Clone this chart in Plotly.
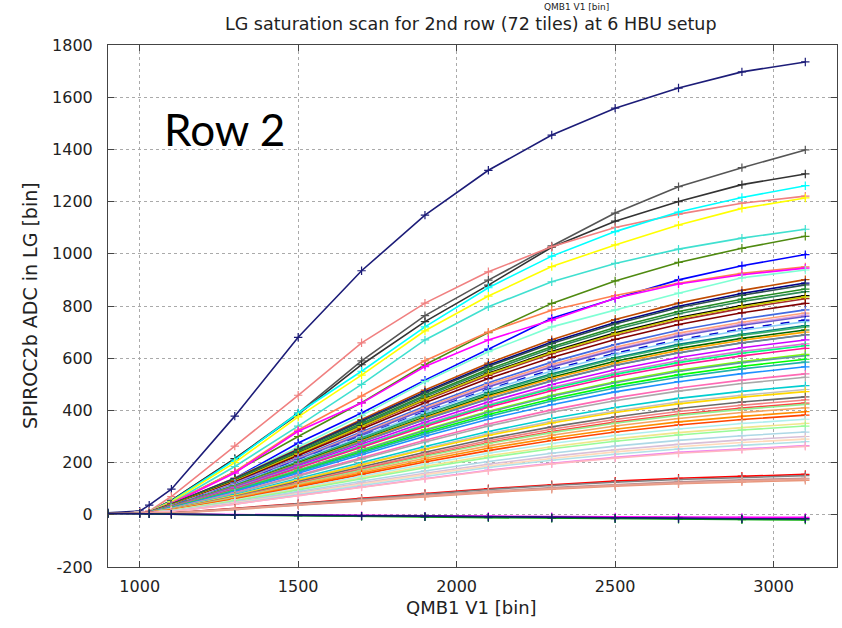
import plotly.graph_objects as go

x_values = [900, 1000, 1030, 1100, 1300, 1500, 1700, 1900, 2100, 2300, 2500, 2700, 2900, 3100]
x_ticks = [1000, 1500, 2000, 2500, 3000]
y_ticks = [-200, 0, 200, 400, 600, 800, 1000, 1200, 1400, 1600, 1800]
y_tick_text = ["-200", "0", "200", "400", "600", "800", "1000", "1200", "1400", "1600", "1800"]

s01 = [8, 14, 37, 98, 378, 680, 935, 1148, 1320, 1455, 1558, 1635, 1697, 1735]
s02 = [5, 8, 12, 55, 215, 390, 590, 763, 899, 1030, 1156, 1257, 1330, 1398]
s03 = [5, 8, 12, 55, 215, 385, 575, 740, 880, 1025, 1125, 1200, 1265, 1306]
s04 = [5, 8, 14, 70, 263, 458, 659, 811, 931, 1027, 1101, 1152, 1194, 1221]
s05 = [5, 8, 12, 52, 210, 390, 550, 720, 870, 991, 1085, 1160, 1216, 1261]
s06 = [5, 8, 12, 50, 200, 375, 535, 705, 838, 951, 1034, 1110, 1174, 1214]
s07 = [5, 8, 11, 45, 185, 340, 500, 670, 797, 893, 963, 1018, 1060, 1094]
s08 = [5, 8, 11, 42, 165, 300, 430, 575, 698, 810, 896, 967, 1021, 1067]
s09 = [5, 8, 11, 40, 140, 275, 390, 516, 635, 753, 829, 900, 954, 997]
s10 = [5, 8, 11, 45, 165, 325, 455, 590, 700, 784, 840, 887, 925, 950]
s11 = [5, 8, 11, 42, 160, 320, 428, 568, 670, 746, 830, 884, 920, 945]
s12 = [5, 8, 10, 38, 140, 260, 380, 510, 625, 720, 785, 849, 908, 938]
s13 = [5, 8, 10, 41, 140, 252, 365, 478, 581, 671, 748, 811, 860, 901]
s14 = [5, 8, 10, 40, 138, 249, 360, 471, 573, 662, 737, 799, 848, 888]
s15 = [5, 8, 10, 40, 137, 247, 357, 467, 568, 656, 731, 793, 841, 881]
s16 = [5, 8, 10, 39, 134, 242, 350, 458, 558, 644, 718, 779, 826, 865]
s17 = [5, 8, 10, 38, 133, 239, 346, 453, 551, 637, 710, 770, 817, 855]
s18 = [5, 8, 10, 38, 130, 235, 340, 445, 542, 626, 697, 756, 802, 840]
s19 = [5, 8, 10, 37, 128, 232, 335, 439, 534, 617, 687, 745, 791, 828]
s20 = [5, 8, 10, 38, 129, 234, 338, 443, 539, 622, 693, 752, 797, 835]
s21 = [5, 8, 10, 36, 126, 227, 328, 429, 522, 603, 672, 729, 774, 810]
s22 = [5, 8, 10, 35, 122, 220, 318, 416, 506, 585, 652, 707, 750, 785]
s23 = [5, 8, 10, 35, 120, 216, 313, 410, 499, 576, 642, 696, 738, 773]
s24 = [5, 8, 10, 34, 119, 214, 310, 405, 493, 570, 635, 689, 731, 765]
s25 = [5, 8, 10, 34, 118, 213, 308, 403, 490, 566, 631, 684, 726, 760]
s26 = [5, 8, 10, 34, 116, 209, 302, 395, 481, 556, 619, 671, 712, 746]
s27 = [5, 8, 10, 33, 115, 207, 300, 392, 477, 551, 614, 666, 707, 740]
s28 = [5, 8, 10, 33, 112, 203, 294, 384, 468, 540, 602, 653, 692, 725]
s29 = [5, 8, 10, 32, 112, 202, 292, 382, 464, 536, 598, 648, 688, 720]
s30 = [5, 8, 10, 32, 110, 198, 287, 375, 457, 527, 588, 637, 676, 708]
s31 = [5, 8, 10, 32, 109, 196, 284, 371, 452, 522, 581, 630, 669, 700]
s32 = [5, 8, 10, 31, 107, 193, 279, 365, 444, 513, 572, 620, 658, 689]
s33 = [5, 8, 10, 31, 108, 194, 280, 366, 445, 514, 573, 621, 659, 690]
s34 = [5, 8, 10, 30, 104, 188, 271, 355, 432, 499, 556, 603, 640, 670]
s35 = [5, 8, 10, 29, 102, 183, 265, 347, 422, 488, 544, 590, 626, 655]
s36 = [5, 8, 10, 29, 100, 181, 262, 343, 418, 483, 538, 583, 619, 648]
s37 = [5, 8, 10, 29, 99, 179, 258, 338, 412, 475, 530, 574, 609, 638]
s38 = [5, 8, 10, 28, 95, 172, 249, 326, 397, 458, 510, 554, 587, 615]
s39 = [5, 8, 10, 27, 95, 171, 247, 323, 393, 454, 506, 549, 583, 610]
s40 = [5, 8, 10, 27, 92, 167, 241, 316, 384, 444, 495, 536, 569, 596]
s41 = [5, 8, 10, 26, 91, 164, 237, 310, 377, 436, 486, 527, 559, 585]
s42 = [5, 8, 10, 26, 88, 159, 230, 301, 366, 422, 471, 510, 541, 567]
s43 = [5, 8, 10, 24, 84, 151, 219, 286, 348, 402, 448, 486, 516, 540]
s44 = [5, 8, 10, 24, 82, 148, 213, 279, 340, 393, 437, 474, 503, 527]
s45 = [5, 8, 10, 22, 77, 139, 200, 262, 319, 369, 411, 446, 473, 495]
s46 = [5, 8, 10, 22, 74, 134, 194, 254, 310, 358, 398, 432, 458, 480]
s47 = [5, 8, 10, 21, 73, 132, 191, 250, 304, 352, 392, 425, 451, 472]
s48 = [5, 8, 10, 20, 70, 127, 183, 240, 292, 337, 375, 407, 432, 452]
s49 = [5, 8, 10, 20, 68, 123, 178, 233, 284, 328, 365, 396, 420, 440]
s50 = [5, 8, 10, 19, 66, 120, 173, 227, 276, 319, 355, 385, 409, 428]
s51 = [5, 8, 10, 19, 66, 118, 171, 224, 273, 315, 351, 381, 404, 423]
s52 = [5, 8, 10, 18, 64, 115, 166, 217, 264, 305, 340, 369, 392, 410]
s53 = [5, 8, 10, 18, 61, 111, 160, 209, 255, 294, 328, 356, 377, 395]
s54 = [5, 8, 10, 17, 59, 107, 155, 202, 246, 285, 317, 344, 365, 382]
s55 = [5, 8, 10, 16, 57, 102, 148, 194, 236, 273, 304, 329, 350, 366]
s56 = [5, 8, 10, 16, 54, 98, 142, 186, 226, 261, 291, 315, 334, 350]
s57 = [5, 8, 10, 15, 53, 95, 138, 180, 219, 253, 282, 306, 325, 340]
s58 = [5, 8, 10, 14, 49, 89, 128, 168, 204, 236, 263, 285, 303, 317]
s59 = [5, 8, 10, 14, 47, 84, 122, 159, 194, 224, 249, 270, 287, 300]
s60 = [5, 8, 10, 13, 45, 81, 117, 154, 187, 216, 241, 261, 277, 290]
s61 = [5, 8, 10, 13, 43, 78, 113, 148, 181, 209, 232, 252, 267, 280]
s62 = [5, 8, 10, 12, 41, 74, 107, 140, 171, 197, 220, 239, 253, 265]
s63 = [5, 8, 10, 12, 41, 73, 106, 139, 169, 195, 217, 236, 250, 262]
s64 = [5, 8, 9, 7, 24, 43, 63, 82, 100, 115, 129, 140, 148, 155]
s65 = [5, 8, 9, 7, 23, 42, 61, 80, 97, 112, 125, 135, 143, 150]
s66 = [5, 7, 8, 6, 22, 39, 57, 74, 90, 104, 116, 126, 134, 140]
s67 = [5, 7, 8, 6, 20, 37, 53, 70, 85, 98, 110, 119, 126, 132]
s68 = [5, 7, 8, 6, 21, 38, 55, 72, 88, 101, 113, 122, 130, 137]
s69 = [5, 5, 4, 3, 1, -1, -3, -5, -6, -7, -8, -9, -10, -10]
s70 = [5, 5, 4, 2, 0, -3, -5, -7, -10, -12, -14, -15, -16, -16]
s71 = [5, 5, 4, 2, 0, -3, -6, -8, -11, -13, -15, -17, -19, -20]
s72 = [5, 5, 4, 2, 0, -2, -5, -7, -9, -11, -13, -14, -15, -15]

series = [s01, s02, s03, s04, s05, s06, s07, s08, s09, s10, s11, s12, s13, s14, s15, s16, s17, s18,
          s19, s20, s21, s22, s23, s24, s25, s26, s27, s28, s29, s30, s31, s32, s33, s34, s35, s36,
          s37, s38, s39, s40, s41, s42, s43, s44, s45, s46, s47, s48, s49, s50, s51, s52, s53, s54,
          s55, s56, s57, s58, s59, s60, s61, s62, s63, s64, s65, s66, s67, s68, s69, s70, s71, s72]

colors = ["#1c1c78", "#555555", "#333333", "#f08080", "#00ffff", "#ffff00", "#40e0d0", "#4f8a10",
          "#0000ff", "#ff7f50", "#ff00ff", "#7fffd4", "#c04a00", "#00008b", "#2f4f4f", "#228b22",
          "#2e8b57", "#000000", "#a52a2a", "#c8c800", "#800000", "#4169e1", "#ffa07a", "#dda0dd",
          "#6a5acd", "#0000cd", "#87cefa", "#008080", "#3cb371", "#006400", "#ffa500", "#4682b4",
          "#708090", "#cc00ff", "#da70d6", "#00ff7f", "#ff1493", "#7fff00", "#5f9ea0", "#00ff00",
          "#20b2aa", "#1e90ff", "#ff69b4", "#a9a9a9", "#00ced1", "#c0c0c0", "#ffd700", "#696969",
          "#f08080", "#ff4040", "#90ee90", "#f4a460", "#ff8c00", "#ff4500", "#afeeee", "#f0e68c",
          "#98fb98", "#add8e6", "#d8bfd8", "#ffdab9", "#b0e0e6", "#ee82ee", "#ffb6c1", "#ff0000",
          "#808080", "#bc8f8f", "#e9967a", "#e8a090", "#ff00ff", "#000080", "#00aa00", "#191970"]

dashed = {"#0000cd"}

fig = go.Figure()
for vals, col in zip(series, colors):
    fig.add_trace(go.Scatter(
        x=x_values, y=vals, mode="lines+markers",
        line=dict(color=col, width=1.6, dash="dash" if col in dashed else "solid"),
        marker=dict(symbol="cross-thin", size=6, color=col, line=dict(color=col, width=1.2)),
        showlegend=False, hoverinfo="skip"))

axis_common = dict(
    showline=True, linecolor="#444444", linewidth=1, mirror="ticks",
    ticks="inside", ticklen=6, tickcolor="#444444",
    showgrid=True, gridcolor="#aaaaaa", griddash="dot", gridwidth=1,
    zeroline=False, tickfont=dict(family="DejaVu Sans", size=16, color="#222222"))

fig.update_xaxes(range=[900, 3200], tickvals=x_ticks, ticklabelstandoff=5, **axis_common)
fig.update_yaxes(range=[-200, 1800], tickvals=y_ticks, ticktext=y_tick_text,
                 ticklabelstandoff=11, **axis_common)

fig.update_layout(
    width=842, height=628, margin=dict(l=108, r=5, t=45, b=61),
    paper_bgcolor="white", plot_bgcolor="white",
    annotations=[
        dict(text="LG saturation scan for 2nd row (72 tiles) at 6 HBU setup", xref="paper", yref="paper",
             x=0.498, y=1.0403, showarrow=False, xanchor="center", yanchor="middle",
             font=dict(family="DejaVu Sans", size=17.5, color="#222222")),
        dict(text="QMB1 V1 [bin]", xref="paper", yref="paper",
             x=0.642, y=1.0862, showarrow=False, xanchor="center", yanchor="top",
             font=dict(family="DejaVu Sans", size=9, color="#222222")),
        dict(text="QMB1 V1 [bin]", xref="paper", yref="paper",
             x=0.499, y=-0.077, showarrow=False, xanchor="center", yanchor="middle",
             font=dict(family="DejaVu Sans", size=18, color="#222222")),
        dict(text="SPIROC2b ADC in LG [bin]", xref="paper", yref="paper",
             x=-0.107, y=0.502, showarrow=False, xanchor="center", yanchor="middle", textangle=-90,
             font=dict(family="DejaVu Sans", size=19, color="#222222")),
        dict(text="Row 2", xref="paper", yref="paper",
             x=0.160, y=0.839, showarrow=False, xanchor="center", yanchor="middle",
             font=dict(family="Lato", size=44, color="#000000")),
    ])

fig.write_html("out.html", config={"displayModeBar": False},
               post_script="document.body.style.margin='0';")
